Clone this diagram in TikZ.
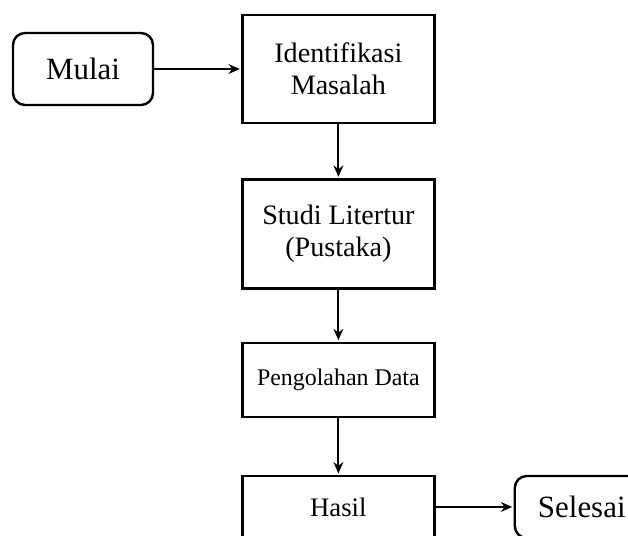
\documentclass[tikz,border=0pt]{standalone}
\usepackage{fontspec}
\setmainfont{Liberation Serif}
\usepackage{tikz}
\usetikzlibrary{positioning}
\usetikzlibrary{arrows.meta}

\tikzset{
  proses/.style={draw,line width=1.7pt,minimum width=4.8cm,align=center,
    font=\fontsize{20}{23}\selectfont},
  terminal/.style={draw,line width=1.7pt,rounded corners=0.3cm,align=center,
    font=\fontsize{22}{26}\selectfont}
}

\begin{document}
\begin{tikzpicture}[>={Stealth[length=8pt,width=7pt]},shorten >=1pt,auto,node distance=1.35cm]
  \useasboundingbox (0,0) rectangle (15.7,-13.4);
  \clip (0,0) rectangle (15.7,-13.4);

  \node[terminal,minimum width=3.5cm,minimum height=1.8cm] (Mulai) at (2.075,-1.725) {Mulai};
  \node[proses,minimum height=2.7cm]   (Identifikasi) [right=2.175cm of Mulai]     {Identifikasi\\Masalah};
  \node[proses,minimum height=2.725cm] (Studi)        [below=of Identifikasi]      {Studi Litertur\\(Pustaka)};
  \node[proses,minimum height=1.85cm,font=\fontsize{17}{20}\selectfont]
                                       (Pengolahan)   [below=1.3cm of Studi]       {Pengolahan Data};
  \node[proses,minimum height=1.55cm,font=\fontsize{19}{22}\selectfont]
                                       (Hasil)        [below=1.42cm of Pengolahan] {Hasil};
  \node[terminal,minimum width=3.35cm,minimum height=1.55cm] (Selesai) [right=1.95cm of Hasil] {Selesai};

  \path[->,line width=1.3pt]
         (Mulai) edge (Identifikasi)
  (Identifikasi) edge (Studi)
         (Studi) edge (Pengolahan)
    (Pengolahan) edge (Hasil)
         (Hasil) edge (Selesai);
\end{tikzpicture}
\end{document}
